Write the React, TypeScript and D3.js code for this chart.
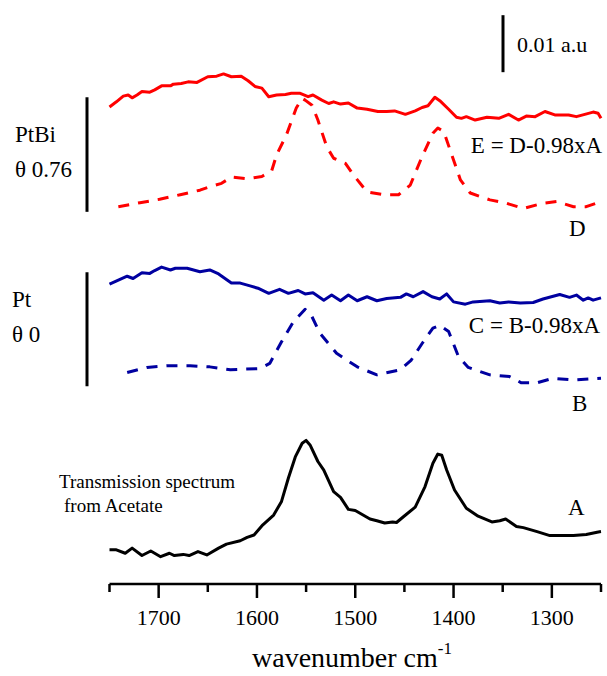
import * as d3 from "d3";

// wavenumber (cm-1), stacked absorbance (mAU = 0.001 a.u.)
const traceA: [number, number][] = [
  [1750, 8.8], [1743, 8.8], [1734, 8.2], [1727, 9.1], [1717, 7.8], [1708, 8.6], [1698, 7.6], [1689, 8.2],
  [1684, 7.8], [1675, 8.0], [1669, 7.8], [1660, 8.5], [1651, 7.9], [1639, 9.1], [1631, 9.8], [1617, 10.4],
  [1610, 11.0], [1603, 11.4], [1594, 13.2], [1583, 14.9], [1575, 17.3], [1568, 21.4], [1561, 25.1], [1554, 27.5],
  [1550, 28.0], [1546, 27.2], [1538, 24.3], [1532, 22.8], [1522, 19.0], [1515, 18.0], [1507, 15.9], [1500, 15.7],
  [1485, 14.2], [1478, 13.9], [1470, 13.5], [1462, 13.7], [1458, 13.6], [1451, 14.6], [1439, 16.3], [1429, 19.9],
  [1421, 24.0], [1416, 25.6], [1412, 25.4], [1407, 22.8], [1399, 19.3], [1387, 16.1], [1375, 14.7], [1361, 13.7],
  [1353, 13.9], [1347, 14.2], [1336, 12.9], [1329, 12.7], [1315, 12.0], [1302, 11.3], [1288, 11.3], [1278, 11.3],
  [1265, 11.5], [1254, 11.9], [1250, 12.0],
];

const traceB: [number, number][] = [
  [1732, 39.9], [1712, 40.8], [1692, 41.1], [1668, 41.1], [1648, 40.9], [1627, 40.4], [1597, 40.6], [1587, 41.5],
  [1575, 45.3], [1563, 48.8], [1551, 51.0], [1544, 49.7], [1536, 46.8], [1519, 43.3], [1498, 40.9], [1478, 39.5],
  [1454, 40.4], [1443, 42.1], [1432, 45.0], [1421, 47.7], [1414, 48.2], [1405, 47.1], [1395, 42.7], [1385, 40.8],
  [1363, 39.5], [1343, 39.2], [1331, 38.1], [1315, 38.1], [1299, 38.9], [1278, 38.6], [1250, 38.9],
];

const traceC: [number, number][] = [
  [1750, 55.4], [1741, 56.1], [1732, 56.8], [1726, 56.4], [1717, 57.4], [1709, 57.3], [1704, 57.8], [1697, 58.4],
  [1688, 57.9], [1683, 58.2], [1671, 58.2], [1658, 57.6], [1648, 57.9], [1639, 57.2], [1626, 55.6], [1617, 55.6],
  [1607, 55.1], [1599, 54.7], [1588, 53.8], [1577, 54.5], [1568, 53.8], [1558, 54.3], [1551, 53.7], [1543, 53.9],
  [1532, 52.6], [1524, 53.5], [1515, 52.5], [1507, 53.5], [1498, 52.5], [1488, 53.2], [1478, 52.5], [1468, 52.9],
  [1454, 53.1], [1448, 53.7], [1441, 53.2], [1431, 54.1], [1422, 53.2], [1414, 52.8], [1407, 53.7], [1400, 52.3],
  [1388, 51.9], [1380, 52.3], [1363, 52.5], [1353, 52.1], [1344, 52.3], [1332, 52.1], [1319, 52.2], [1309, 52.8],
  [1292, 53.6], [1282, 53.1], [1275, 53.5], [1268, 52.6], [1263, 53.0], [1258, 52.6], [1250, 53.0],
];

const traceD: [number, number][] = [
  [1741, 69.0], [1719, 69.7], [1699, 70.3], [1678, 71.1], [1658, 71.9], [1648, 72.5], [1636, 73.1], [1626, 74.2],
  [1610, 73.9], [1595, 74.3], [1585, 75.3], [1580, 78.1], [1570, 81.6], [1560, 86.3], [1554, 88.0], [1551, 87.7],
  [1544, 86.8], [1538, 84.2], [1529, 79.5], [1522, 77.5], [1510, 76.6], [1502, 74.6], [1488, 71.6], [1471, 71.1],
  [1456, 71.1], [1444, 72.8], [1432, 77.8], [1421, 81.9], [1416, 82.8], [1410, 82.2], [1400, 77.2], [1393, 73.7],
  [1383, 71.4], [1363, 70.2], [1346, 69.6], [1329, 68.7], [1309, 69.6], [1295, 69.9], [1278, 69.0], [1265, 69.0],
  [1250, 69.9],
];

const traceE: [number, number][] = [
  [1750, 86.5], [1743, 87.4], [1736, 88.4], [1731, 88.6], [1727, 88.1], [1722, 88.6], [1717, 89.2], [1709, 89.1],
  [1704, 89.5], [1697, 90.2], [1688, 90.2], [1685, 90.5], [1677, 90.6], [1670, 90.9], [1661, 90.8], [1650, 91.8],
  [1641, 91.9], [1634, 92.3], [1626, 91.8], [1616, 91.9], [1609, 91.1], [1602, 90.1], [1595, 89.8], [1588, 88.3],
  [1580, 88.6], [1571, 88.7], [1565, 88.9], [1556, 88.9], [1548, 88.3], [1543, 88.6], [1534, 87.7], [1527, 87.1],
  [1522, 87.4], [1515, 87.0], [1507, 87.2], [1498, 86.3], [1488, 86.1], [1477, 85.7], [1468, 85.7], [1460, 85.8],
  [1449, 85.2], [1439, 85.8], [1432, 86.4], [1426, 86.7], [1419, 88.2], [1414, 87.6], [1405, 86.1], [1397, 84.7],
  [1392, 84.5], [1387, 84.8], [1378, 84.2], [1366, 84.7], [1354, 84.5], [1344, 85.2], [1334, 84.2], [1326, 84.9],
  [1317, 84.8], [1307, 85.7], [1297, 85.1], [1283, 85.1], [1275, 84.8], [1258, 85.6], [1253, 85.4], [1250, 84.5],
];

const majorTicks = [1700, 1600, 1500, 1400, 1300];
const minorTicks = [1750, 1650, 1550, 1450, 1350, 1250];

// group brackets and the 0.01 a.u. scale bar, in mAU
const ptbiBar = [68.1, 88.2];
const ptBar = [37.5, 57.5];
const scaleBarBase = 92.6;
const scaleBarSize = 10; // 0.01 a.u.

const W = 607;
const H = 676;
const FONT = "'Liberation Serif', 'Times New Roman', serif";
const RED = "#ff0000";
const BLUE = "#0000a0";

export default function App() {
  const x = d3.scaleLinear().domain([1750, 1250]).range([109.5, 601]);
  const y = d3.scaleLinear().domain([0, 100]).range([600, 30]);
  const line = d3
    .line<[number, number]>()
    .x((d) => x(d[0]))
    .y((d) => y(d[1]));

  const axisY = 584;
  const series = [
    { data: traceA, color: "#000", dash: undefined },
    { data: traceB, color: BLUE, dash: "11 9" },
    { data: traceC, color: BLUE, dash: undefined },
    { data: traceD, color: RED, dash: "11 9" },
    { data: traceE, color: RED, dash: undefined },
  ];

  return (
    <svg
      width={W}
      height={H}
      style={{ position: "absolute", left: 0, top: 0, background: "#fff" }}
      fontFamily={FONT}
    >
      {series.map((s, i) => (
        <path
          key={i}
          d={line(s.data) || ""}
          fill="none"
          stroke={s.color}
          strokeWidth={3}
          strokeDasharray={s.dash}
          strokeLinejoin="round"
        />
      ))}

      {/* x axis */}
      <line x1={x(1750)} x2={x(1250)} y1={axisY} y2={axisY} stroke="#000" strokeWidth={2.5} />
      {majorTicks.map((t) => (
        <g key={t}>
          <line x1={x(t)} x2={x(t)} y1={axisY} y2={axisY + 14} stroke="#000" strokeWidth={2.5} />
          <text x={x(t)} y={625} textAnchor="middle" fontSize={22}>
            {t}
          </text>
        </g>
      ))}
      {minorTicks.map((t) => (
        <line key={t} x1={x(t)} x2={x(t)} y1={axisY} y2={axisY + 8} stroke="#000" strokeWidth={2.5} />
      ))}
      <text x={352} y={667} textAnchor="middle" fontSize={28}>
        wavenumber cm
        <tspan fontSize={17} dy={-13}>
          -1
        </tspan>
      </text>

      {/* scale bar */}
      <line x1={503} x2={503} y1={y(scaleBarBase)} y2={y(scaleBarBase + scaleBarSize)} stroke="#000" strokeWidth={3} />
      <text x={517} y={52} fontSize={22}>
        0.01 a.u
      </text>

      {/* group brackets */}
      <line x1={87} x2={87} y1={y(ptbiBar[0])} y2={y(ptbiBar[1])} stroke="#000" strokeWidth={3} />
      <line x1={87} x2={87} y1={y(ptBar[0])} y2={y(ptBar[1])} stroke="#000" strokeWidth={3} />
      <text x={15} y={142} fontSize={23}>PtBi</text>
      <text x={15} y={177} fontSize={23}>θ 0.76</text>
      <text x={12} y={307} fontSize={23}>Pt</text>
      <text x={12} y={342} fontSize={23}>θ 0</text>

      {/* trace labels */}
      <text x={602} y={153} textAnchor="end" fontSize={23}>E = D-0.98xA</text>
      <text x={569} y={236} fontSize={23}>D</text>
      <text x={600} y={333} textAnchor="end" fontSize={23}>C = B-0.98xA</text>
      <text x={572} y={411} fontSize={23}>B</text>
      <text x={568} y={515} fontSize={23}>A</text>
      <text x={59} y={488} fontSize={19}>Transmission spectrum</text>
      <text x={64} y={512} fontSize={19}>from Acetate</text>
    </svg>
  );
}
